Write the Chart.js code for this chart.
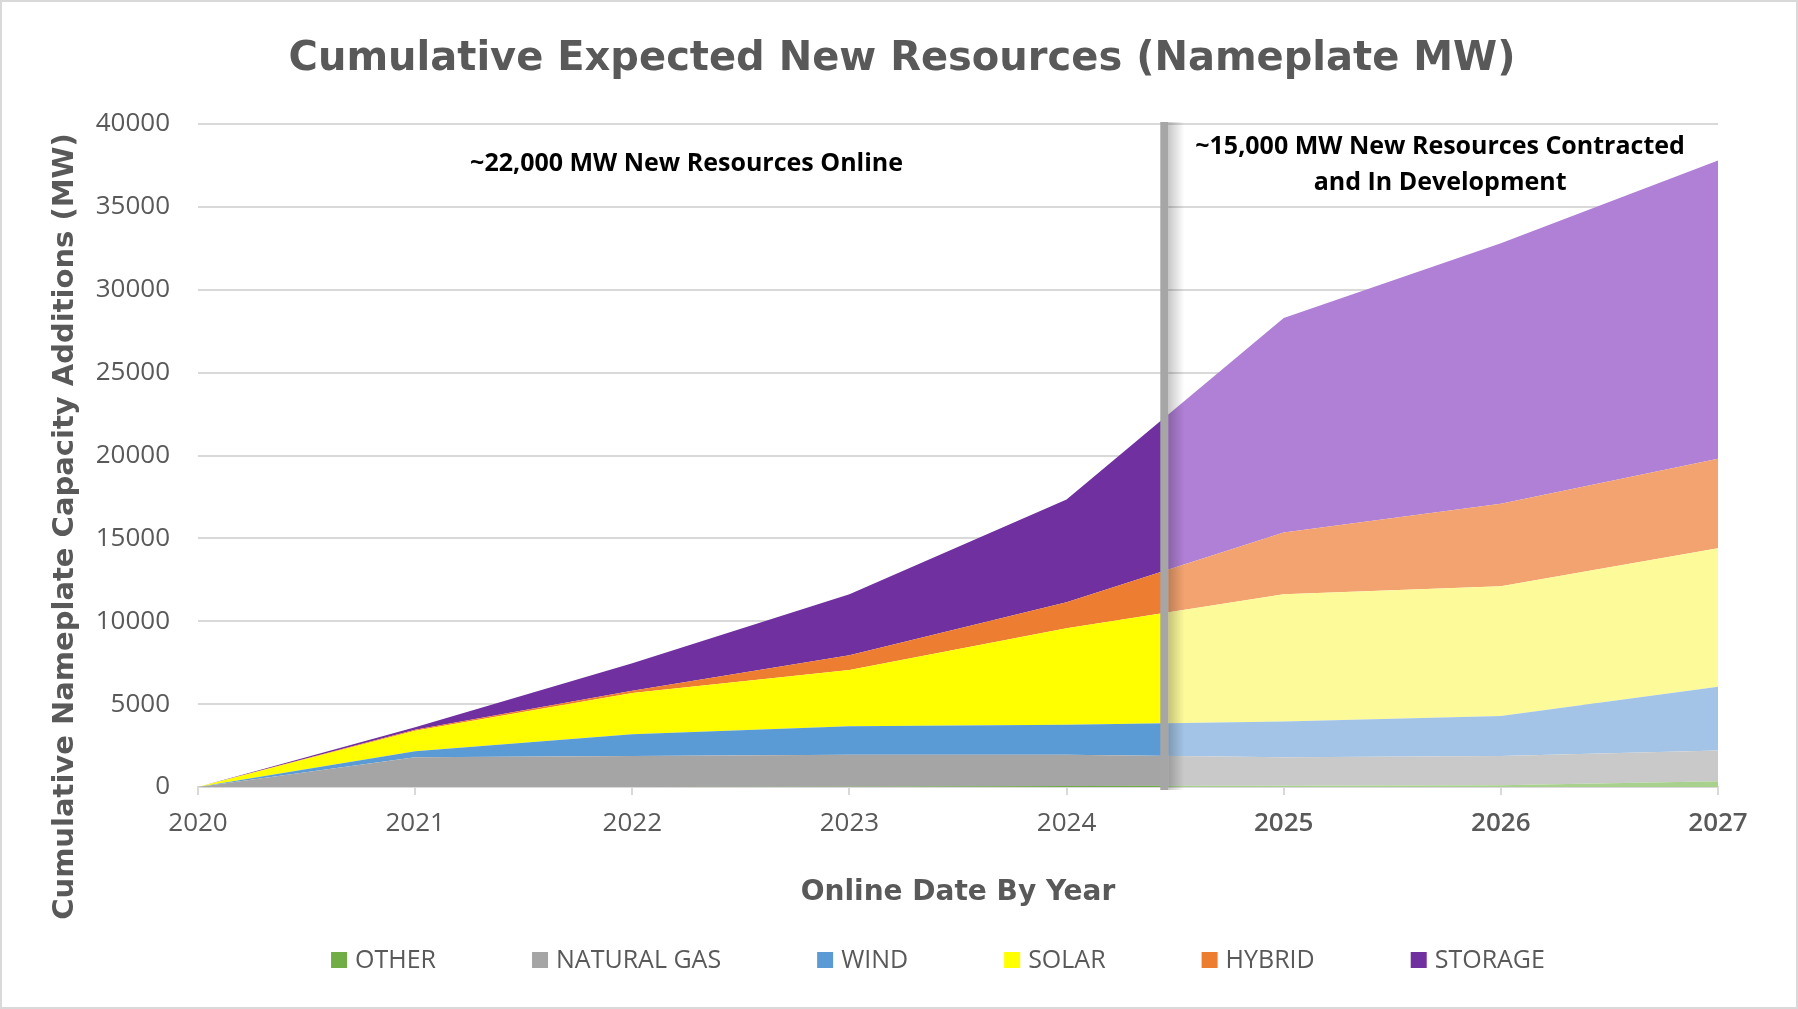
<!DOCTYPE html>
<html>
<head>
<meta charset="utf-8">
<script src="https://cdn.jsdelivr.net/npm/chart.js@4.4.1/dist/chart.umd.min.js"></script>
<style>
  html, body { margin: 0; padding: 0; background: #fff; overflow: hidden; }
  canvas { display: block; }
</style>
</head>
<body>
<canvas id="c" width="1798" height="1009"></canvas>
<script>
// values (MW added per type, stacked)
const years      = [2020, 2021, 2022, 2023, 2024, 2025, 2026, 2027];
const other      = [0,    0,    0,    20,   60,   70,   100,  350];
const naturalGas = [0, 1800, 1870, 1920, 1890, 1730, 1770, 1850];
const wind       = [0,  350, 1310, 1730, 1810, 2150, 2420, 3850];
const solar      = [0, 1250, 2490, 3390, 5820, 7680, 7820, 8350];
const hybrid     = [0,   50,  130,  890, 1570, 3730, 4980, 5400];
const storage    = [0,  150, 1670, 3680, 6200, 12940, 15710, 18000];

const seriesNames = ['OTHER', 'NATURAL GAS', 'WIND', 'SOLAR', 'HYBRID', 'STORAGE'];
const solidColors = ['#70ad47', '#a5a5a5', '#5b9bd5', '#ffff00', '#ed7d31', '#7030a0'];
const fadedColors = ['#a9d18e', '#c9c9c9', '#a3c4e6', '#fdfa9a', '#f2a36f', '#b07fd6'];

const dividerYear = 2024.45;
const chartTitle = 'Cumulative Expected New Resources (Nameplate MW)';
const leftNote = '~22,000 MW New Resources Online';
const rightNote = ['~15,000 MW New Resources Contracted', 'and In Development'];

const GREY = '#595959';
const GRID = '#d9d9d9';

// solid left of the divider, faded right of it
function splitFill(i) {
  return function(c) {
    const chart = c.chart;
    const area = chart.chartArea;
    if (!area || !chart.scales.x) return solidColors[i];
    const xd = chart.scales.x.getPixelForValue(dividerYear);
    const f = Math.min(1, Math.max(0, (xd - area.left) / (area.right - area.left)));
    const g = chart.ctx.createLinearGradient(area.left, 0, area.right, 0);
    g.addColorStop(0, solidColors[i]);
    g.addColorStop(f, solidColors[i]);
    g.addColorStop(f, fadedColors[i]);
    g.addColorStop(1, fadedColors[i]);
    return g;
  };
}

const seriesValues = [other, naturalGas, wind, solar, hybrid, storage];
const datasets = seriesValues.map((vals, i) => ({
  label: seriesNames[i],
  data: years.map((yr, k) => ({ x: yr, y: vals[k] })),
  backgroundColor: splitFill(i),
  borderWidth: 0,
  pointRadius: 0,
  fill: i === 0 ? 'origin' : '-1',
  tension: 0
}));

const decorations = {
  id: 'decorations',
  beforeDraw(chart) {
    const ctx = chart.ctx;
    ctx.save();
    ctx.fillStyle = '#fff';
    ctx.fillRect(0, 0, chart.width, chart.height);
    ctx.strokeStyle = GRID;
    ctx.lineWidth = 2;
    ctx.strokeRect(1, 1, chart.width - 2, chart.height - 2);
    ctx.restore();
  },
  afterDatasetsDraw(chart) {
    const ctx = chart.ctx;
    const area = chart.chartArea;
    const xd = chart.scales.x.getPixelForValue(dividerYear);
    const top = chart.scales.y.getPixelForValue(40000) - 2;
    const bottom = area.bottom + 3;
    ctx.save();
    const sh = ctx.createLinearGradient(xd + 4, 0, xd + 20, 0);
    sh.addColorStop(0, 'rgba(0,0,0,0.22)');
    sh.addColorStop(1, 'rgba(0,0,0,0)');
    ctx.fillStyle = sh;
    ctx.fillRect(xd + 4, top, 16, bottom - top);
    ctx.fillStyle = '#a6a6a6';
    ctx.fillRect(xd - 4, top, 8, bottom - top);
    ctx.restore();
  },
  afterDraw(chart) {
    const ctx = chart.ctx;
    const area = chart.chartArea;
    const x = chart.scales.x;
    ctx.save();
    ctx.textAlign = 'center';
    ctx.textBaseline = 'middle';

    // title
    ctx.fillStyle = GREY;
    ctx.font = 'bold 40px "DejaVu Sans"';
    ctx.fillText(chartTitle, (area.left + area.right) / 2 - 56, 60);

    // notes
    ctx.fillStyle = '#000';
    ctx.font = 'bold 25px "Open Sans"';
    ctx.fillText(leftNote, x.getPixelForValue(2022.25), area.top + 40);
    ctx.fillText(rightNote[0], x.getPixelForValue(2025.72), area.top + 23);
    ctx.fillText(rightNote[1], x.getPixelForValue(2025.72), area.top + 59);

    // y axis title
    ctx.fillStyle = GREY;
    ctx.font = 'bold 29px "DejaVu Sans"';
    ctx.translate(65, (area.top + area.bottom) / 2 + 71);
    ctx.rotate(-Math.PI / 2);
    ctx.fillText('Cumulative Nameplate Capacity Additions (MW)', 0, 0);
    ctx.setTransform(1, 0, 0, 1, 0, 0);

    // legend row
    ctx.font = '25px "Open Sans"';
    ctx.textAlign = 'left';
    const box = 16, gap = 8, space = 96;
    const widths = seriesNames.map(n => ctx.measureText(n).width);
    const total = widths.reduce((a, w) => a + box + gap + w, 0) + space * (seriesNames.length - 1);
    let lx = (area.left + area.right) / 2 - 20 - total / 2;
    const ly = 960;
    seriesNames.forEach((n, i) => {
      ctx.fillStyle = solidColors[i];
      ctx.fillRect(lx, ly - box / 2, box, box);
      ctx.fillStyle = GREY;
      ctx.fillText(n, lx + box + gap, ly + 1);
      lx += box + gap + widths[i] + space;
    });
    ctx.restore();
  }
};

new Chart(document.getElementById('c'), {
  type: 'line',
  data: { datasets },
  plugins: [decorations],
  options: {
    responsive: false,
    animation: false,
    devicePixelRatio: 1,
    layout: { padding: { left: 0, right: 80, top: 124, bottom: 97 } },
    plugins: {
      legend: { display: false },
      tooltip: { enabled: false },
      title: { display: false }
    },
    scales: {
      x: {
        type: 'linear',
        min: 2020,
        max: 2027,
        afterFit(s) { s.height = 125; },
        ticks: {
          stepSize: 1,
          padding: 13,
          color: GREY,
          font: c => ({ family: 'Open Sans', size: 26, weight: c.tick && c.tick.value >= 2025 ? '600' : 'normal' }),
          callback: v => String(v)
        },
        grid: { drawOnChartArea: false, drawTicks: true, tickLength: 8, color: GRID, lineWidth: 2 },
        border: { color: GRID, width: 2 },
        title: {
          display: true,
          text: 'Online Date By Year',
          color: GREY,
          font: { family: 'DejaVu Sans', size: 28, weight: 'bold' },
          padding: { top: 0, bottom: 2 }
        }
      },
      y: {
        stacked: true,
        min: 0,
        max: 40000,
        afterFit(s) { s.width = 198; },
        ticks: {
          stepSize: 5000,
          padding: 28,
          color: GREY,
          font: { family: 'Open Sans', size: 26 },
          callback: v => String(v)
        },
        grid: { color: GRID, lineWidth: 2, drawTicks: false },
        border: { display: false }
      }
    }
  }
});
</script>
</body>
</html>
